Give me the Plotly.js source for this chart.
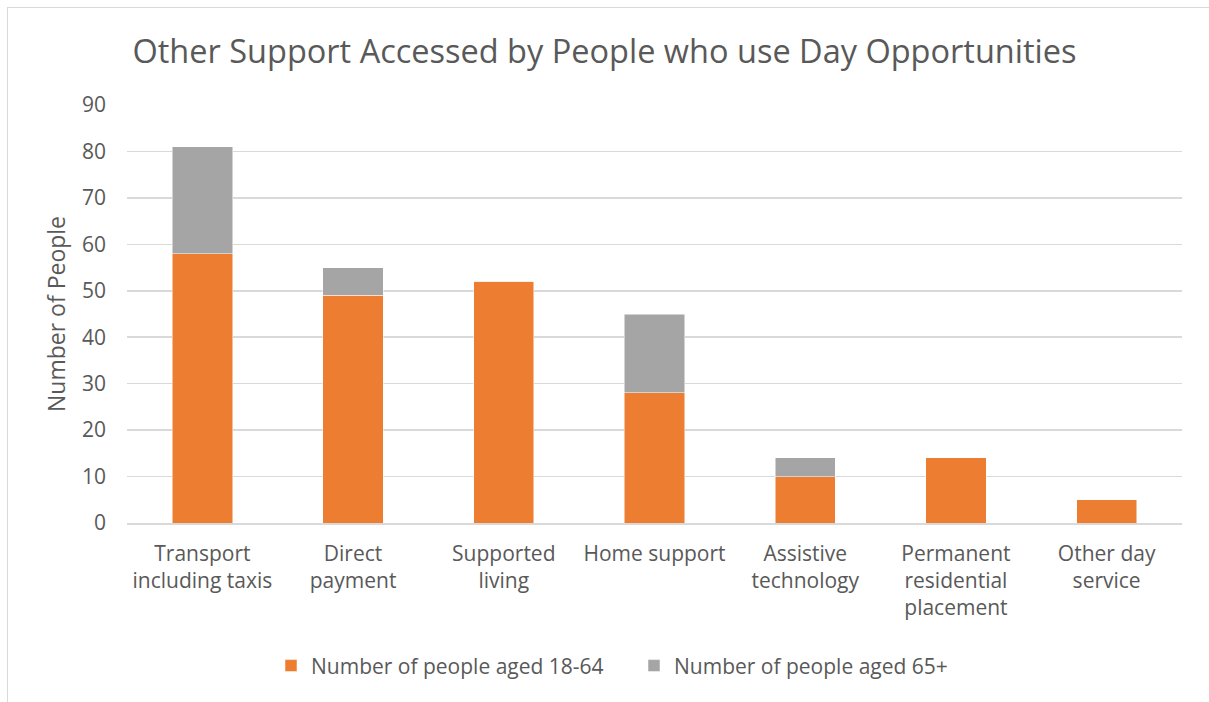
<!DOCTYPE html>
<html>
<head>
<meta charset="utf-8">
<script src="https://cdn.plot.ly/plotly-3.0.1.min.js"></script>
<style>
  html, body { margin: 0; padding: 0; background: #fff; }
  #wrap { position: relative; width: 1209px; height: 702px; }
  #frame { position: absolute; left: 7px; top: 7px; width: 1210px; height: 710px;
           border-left: 1.5px solid #d9d9d9; border-top: 1.5px solid #d9d9d9; pointer-events: none; }
  #chart { position: absolute; left: 0; top: 0; width: 1209px; height: 702px; }
</style>
</head>
<body>
<div id="wrap">
  <div id="chart"></div>
  <div id="frame"></div>
</div>
<script>
const categories = [
  "Transport<br>including taxis",
  "Direct<br>payment",
  "Supported<br>living",
  "Home support",
  "Assistive<br>technology",
  "Permanent<br>residential<br>placement",
  "Other day<br>service"
];
const aged18to64 = [58, 49, 52, 28, 10, 14, 5];
const aged65plus = [23, 6, 0, 17, 4, 0, 0];
const seriesNames = ["Number of people aged 18-64", "Number of people aged 65+"];
const yTicks = [0, 10, 20, 30, 40, 50, 60, 70, 80, 90];

const font = "Open Sans";
const textColor = "#595959";

const traces = [
  { type: "bar", name: seriesNames[0], x: categories, y: aged18to64,
    marker: { color: "#ED7D31", line: { color: "#ffffff", width: 0.5 } } },
  { type: "bar", name: seriesNames[1], x: categories, y: aged65plus,
    marker: { color: "#A5A5A5", line: { color: "#ffffff", width: 0.5 } } }
];

const layout = {
  width: 1209, height: 702,
  barmode: "stack",
  bargap: 0.6,
  paper_bgcolor: "rgba(0,0,0,0)",
  plot_bgcolor: "rgba(0,0,0,0)",
  margin: { l: 127, r: 27, t: 105, b: 179, autoexpand: false },
  font: { family: font, color: textColor, size: 21 },
  title: {
    text: "Other Support Accessed by People who use Day Opportunities",
    font: { family: font, size: 32.5, color: textColor },
    x: 0.5, xanchor: "center", xref: "container",
    y: 1 - 52 / 702, yanchor: "middle"
  },
  xaxis: {
    type: "category",
    tickangle: 0,
    automargin: false,
    tickfont: { family: font, size: 21, color: textColor },
    showgrid: false,
    showline: true, linecolor: "#d9d9d9", linewidth: 1.5,
    ticks: "", ticklabelstandoff: 11
  },
  yaxis: {
    range: [0, 90],
    automargin: false,
    tickvals: yTicks,
    ticktext: yTicks.map(String),
    tickfont: { family: font, size: 21, color: textColor },
    showgrid: true, gridcolor: "#d9d9d9", gridwidth: 1.5,
    zeroline: false, showline: false, ticks: "",
    ticklabelstandoff: 20,
    title: { text: "Number of People", font: { family: font, size: 23, color: textColor }, standoff: 9 }
  },
  legend: {
    orientation: "h",
    xref: "paper",
    x: (271 - 127) / 1055, xanchor: "left",
    y: -0.342, yanchor: "middle",
    font: { family: font, size: 21, color: textColor },
    traceorder: "normal",
    itemwidth: 30,
    entrywidthmode: "pixels",
    entrywidth: 318
  },
  showlegend: true
};

Plotly.newPlot("chart", traces, layout, { displayModeBar: false, staticPlot: true });
</script>
</body>
</html>
